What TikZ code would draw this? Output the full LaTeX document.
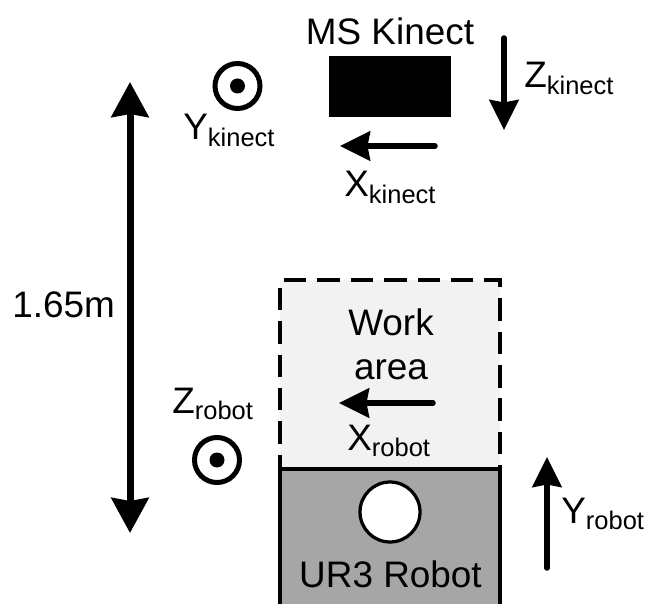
\documentclass[tikz,border=0pt]{standalone}
\usepackage{fontspec}
\setmainfont{Liberation Sans}
\usetikzlibrary{arrows.meta, positioning}

\definecolor{workgray}{HTML}{F2F2F2}
\definecolor{robotgray}{HTML}{A6A6A6}
\newcommand{\axlabel}[2]{#1\raisebox{-3.5pt}{\fontsize{14.5}{16}\selectfont #2}}

\begin{document}
\begin{tikzpicture}[
    x=0.02cm, y=-0.02cm,
    >={Stealth[length=0.6cm, width=0.58cm, inset=0.05cm]},
    axis/.style={->, line width=0.11cm, line cap=round},
    dimline/.style={{Stealth[length=0.7cm, width=0.74cm, inset=0.06cm]}-{Stealth[length=0.7cm, width=0.74cm, inset=0.06cm]}, line width=0.14cm},
    txt/.style={font=\fontsize{21}{26}\selectfont, inner sep=0pt},
    outof/.style={draw, circle, line width=0.1cm, minimum size=0.9cm, inner sep=0pt},
    dot/.style={fill, circle, minimum size=0.3cm, inner sep=0pt},
    sensor/.style={fill=black, minimum width=2.44cm, minimum height=1.22cm, inner sep=0pt},
    workbox/.style={draw, dash pattern=on 0.45cm off 0.22cm, line width=0.065cm, fill=workgray, minimum width=4.4cm, minimum height=3.78cm, inner sep=0pt},
    robotbox/.style={draw, line width=0.065cm, fill=robotgray, minimum width=4.4cm, minimum height=3.2cm, inner sep=0pt},
    base/.style={draw, circle, line width=0.065cm, fill=white, minimum size=1.2cm, inner sep=0pt},
  ]
  \useasboundingbox (0,0) rectangle (645,604);

  % --- Kinect sensor ---
  \node[sensor] (kinect) at (390,86.5) {};
  \node[txt, anchor=base] (kinect_name) at (390,45) {MS Kinect};

  % --- Kinect frame ---
  \coordinate (zk_from) at (504,38);
  \coordinate (zk_to) at (504,130);
  \draw[axis] (zk_from) -- (zk_to);
  \node[txt, anchor=base west] (zk_label) at (524,88) {\axlabel{Z}{kinect}};

  \coordinate (xk_from) at (435,146);
  \coordinate (xk_to) at (340,146);
  \draw[axis] (xk_from) -- (xk_to);
  \node[txt, anchor=base west] (xk_label) at (344,197) {\axlabel{X}{kinect}};

  \node[outof] (yk) at (237.5,86) {};
  \node[dot] (yk_dot) at (yk.center) {};
  \node[txt, anchor=base west] (yk_label) at (183,140) {\axlabel{Y}{kinect}};

  % --- Distance ---
  \coordinate (dist_top) at (130,82);
  \coordinate (dist_bot) at (130,533);
  \draw[dimline] (dist_top) -- (dist_bot);
  \node[txt, anchor=base west] (dist_label) at (12,317) {1.65m};

  % --- Work area and robot ---
  \node[workbox] (work) at (390,374.5) {};
  \node[robotbox] (robot) at (390,549) {};
  \node[base] (robot_base) at (390,512) {};
  \node[txt, anchor=base] (work_label) at (391,335) {Work};
  \node[txt, anchor=base] (area_label) at ([yshift=-0.9cm]work_label.base) {area};
  \node[txt, anchor=base] (robot_label) at (390.5,587) {UR3 Robot};

  % --- Robot frame ---
  \coordinate (xr_from) at (433,403);
  \coordinate (xr_to) at (339,403);
  \draw[axis] (xr_from) -- (xr_to);
  \node[txt, anchor=base west] (xr_label) at (347,450) {\axlabel{X}{robot}};

  \coordinate (yr_from) at (547,568);
  \coordinate (yr_to) at (547,457);
  \draw[axis] (yr_from) -- (yr_to);
  \node[txt, anchor=base west] (yr_label) at (561,523) {\axlabel{Y}{robot}};

  \node[outof] (zr) at (217,460) {};
  \node[dot] (zr_dot) at (zr.center) {};
  \node[txt, anchor=base west] (zr_label) at (172,413) {\axlabel{Z}{robot}};

\end{tikzpicture}
\end{document}
